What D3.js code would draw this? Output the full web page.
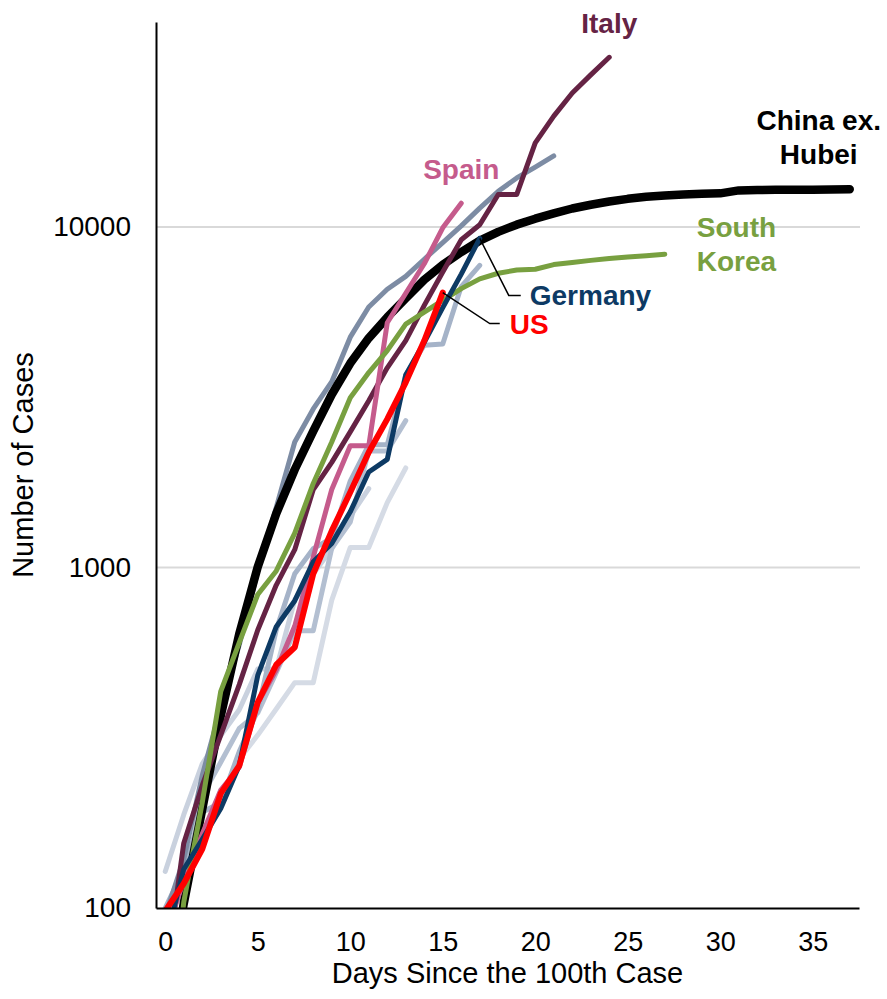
<!DOCTYPE html>
<html>
<head>
<meta charset="utf-8">
<script src="https://cdn.jsdelivr.net/npm/d3@7"></script>
<style>
  body { margin: 0; background: #fff; }
  svg { display: block; }
  text { font-family: "Liberation Sans", Arial, Helvetica, sans-serif; }
</style>
</head>
<body>
<svg id="chart" width="887" height="999"></svg>
<script>
// Cumulative confirmed cases, indexed by days since the 100th case
const chinaExHubei = [50, 103, 195, 367, 638, 1004, 1440, 1940, 2516, 3221, 3977, 4718, 5430, 6171, 7002, 7744,
  8441, 9122, 9678, 10159, 10578, 10961, 11333, 11626, 11886, 12098, 12264, 12375, 12457, 12515, 12557,
  12810, 12838, 12854, 12865, 12874, 12878, 12902];
const italy = [62, 155, 229, 322, 453, 655, 888, 1128, 1694, 2036, 2502, 3089, 3858, 4636, 5883, 7375, 9172,
  10149, 12462, 12462, 17660, 21157, 24747, 27980, 31506];
const spain = [84, 120, 165, 222, 259, 400, 500, 673, 1073, 1695, 2277, 2277, 5232, 6391, 7798, 9942, 11748];
const southKorea = [31, 104, 204, 433, 602, 833, 977, 1261, 1766, 2337, 3150, 3736, 4335, 5186, 5621, 6088,
  6593, 7041, 7314, 7478, 7513, 7755, 7869, 7979, 8086, 8162, 8236, 8320];
const germany = [79, 130, 159, 196, 262, 482, 670, 799, 1040, 1176, 1457, 1908, 2078, 3675, 4585, 5795, 7272, 9257];
const us = [98, 118, 149, 217, 262, 402, 518, 583, 959, 1281, 1663, 2179, 2727, 3499, 4632, 6421];
const iran = [95, 139, 245, 388, 593, 978, 1501, 2336, 2922, 3513, 4747, 5823, 6566, 7161, 8042, 9000, 10075,
  11364, 12729, 13938, 14991, 16169];
const france = [100, 130, 191, 204, 288, 380, 656, 959, 1136, 1219, 1794, 2293, 2293, 3681, 4496, 4532, 6683, 7715];
const switzerland = [90, 114, 214, 268, 337, 374, 491, 652, 652, 1139, 1359, 2200, 2200, 2700];
const netherlands = [128, 188, 265, 321, 382, 503, 503, 804, 959, 1135, 1413, 1705];
const unitedKingdom = [86, 116, 164, 207, 274, 322, 384, 459, 459, 802, 1144, 1145, 1551, 1960];

// Axis ticks
const xTickValues = [0, 5, 10, 15, 20, 25, 30, 35];
const yTickValues = [100, 1000, 10000];
const gridValues = [1000, 10000];

// Series drawn in this order (background lines first)
const series = [
  { key: "unitedKingdom", values: unitedKingdom, color: "#d5dbe5", width: 5 },
  { key: "netherlands", values: netherlands, color: "#c9d1de", width: 5 },
  { key: "switzerland", values: switzerland, color: "#b3bfd1", width: 5 },
  { key: "france", values: france, color: "#a5b3c8", width: 5 },
  { key: "iran", values: iran, color: "#7d8ca4", width: 5 },
  { key: "china", values: chinaExHubei, color: "#000000", width: 8.5 },
  { key: "italy", values: italy, color: "#652344", width: 5 },
  { key: "spain", values: spain, color: "#c55b8c", width: 5 },
  { key: "korea", values: southKorea, color: "#78a040", width: 5 },
  { key: "germany", values: germany, color: "#0d3a64", width: 5 },
  { key: "us", values: us, color: "#ff0000", width: 6 }
];

const svg = d3.select("#chart");
const plot = { left: 156, right: 859, top: 22, bottom: 908 };

const x = d3.scaleLinear().domain([-0.5, 37.5]).range([plot.left, plot.right]);
const y = d3.scaleLog().domain([100, 40000]).range([plot.bottom, plot.top]);

// Gridlines
svg.append("g")
  .selectAll("line")
  .data(gridValues)
  .join("line")
  .attr("x1", plot.left).attr("x2", plot.right + 1)
  .attr("y1", d => y(d)).attr("y2", d => y(d))
  .attr("stroke", "#d9d9d9")
  .attr("stroke-width", 2);

// Clip lines to the plotting area (values below 100 leave through the bottom)
svg.append("defs").append("clipPath").attr("id", "plotClip")
  .append("rect")
  .attr("x", plot.left).attr("y", 0)
  .attr("width", 887 - plot.left).attr("height", plot.bottom);

const line = d3.line()
  .x((d, i) => x(i))
  .y(d => y(d));

svg.append("g")
  .attr("clip-path", "url(#plotClip)")
  .selectAll("path")
  .data(series)
  .join("path")
  .attr("d", d => line(d.values))
  .attr("fill", "none")
  .attr("stroke", d => d.color)
  .attr("stroke-width", d => d.width)
  .attr("stroke-linejoin", "round")
  .attr("stroke-linecap", "round");

// Axes
const yAxis = svg.append("g")
  .attr("transform", `translate(${plot.left},0)`)
  .call(d3.axisLeft(y).tickValues(yTickValues).tickFormat(d3.format("d"))
    .tickSize(0).tickSizeOuter(0).tickPadding(25));
yAxis.select(".domain").attr("stroke", "#000").attr("stroke-width", 2);
yAxis.selectAll("text").attr("font-size", 28).attr("fill", "#000")
  .attr("font-family", "'Liberation Sans', Arial, sans-serif");

const xAxis = svg.append("g")
  .attr("transform", `translate(0,${plot.bottom})`)
  .call(d3.axisBottom(x).tickValues(xTickValues).tickFormat(d3.format("d"))
    .tickSize(0).tickSizeOuter(0).tickPadding(24));
xAxis.select(".domain").attr("stroke", "#000").attr("stroke-width", 2);
xAxis.selectAll("text").attr("font-size", 27).attr("fill", "#000")
  .attr("font-family", "'Liberation Sans', Arial, sans-serif");

// Axis titles
svg.append("text")
  .attr("x", (plot.left + plot.right) / 2)
  .attr("y", 983)
  .attr("text-anchor", "middle")
  .attr("font-size", 29)
  .attr("fill", "#000")
  .text("Days Since the 100th Case");

svg.append("text")
  .attr("transform", `translate(33,${(plot.top + plot.bottom) / 2}) rotate(-90)`)
  .attr("text-anchor", "middle")
  .attr("font-size", 29)
  .attr("fill", "#000")
  .text("Number of Cases");

// Series labels
const lastPoint = arr => [x(arr.length - 1), y(arr[arr.length - 1])];
const labels = svg.append("g").attr("font-weight", "bold").attr("font-size", 28);

const [itX, itY] = lastPoint(italy);
labels.append("text").attr("x", itX).attr("y", itY - 24)
  .attr("text-anchor", "middle").attr("fill", "#652344").text("Italy");

const [spX, spY] = lastPoint(spain);
labels.append("text").attr("x", spX).attr("y", spY - 24)
  .attr("text-anchor", "middle").attr("fill", "#c55b8c").text("Spain");

const [chX, chY] = lastPoint(chinaExHubei);
const chinaLabel = labels.append("text").attr("text-anchor", "middle").attr("fill", "#000");
chinaLabel.append("tspan").attr("x", chX - 31).attr("y", chY - 59).text("China ex.");
chinaLabel.append("tspan").attr("x", chX - 31).attr("y", chY - 25).text("Hubei");

const [krX, krY] = lastPoint(southKorea);
const koreaLabel = labels.append("text").attr("text-anchor", "start").attr("fill", "#78a040");
koreaLabel.append("tspan").attr("x", krX + 32).attr("y", krY - 17).text("South");
koreaLabel.append("tspan").attr("x", krX + 32).attr("y", krY + 17).text("Korea");

// Leader lines for Germany and US
const [deX, deY] = lastPoint(germany);
svg.append("path")
  .attr("d", `M${deX},${deY} L${deX + 29},${deY + 57} H${deX + 41}`)
  .attr("fill", "none").attr("stroke", "#000").attr("stroke-width", 1.5);
labels.append("text").attr("x", deX + 50).attr("y", deY + 67)
  .attr("fill", "#0d3a64").text("Germany");

const [usX, usY] = lastPoint(us);
svg.append("path")
  .attr("d", `M${usX},${usY} L${usX + 47},${usY + 31} H${usX + 57}`)
  .attr("fill", "none").attr("stroke", "#000").attr("stroke-width", 1.5);
labels.append("text").attr("x", usX + 67).attr("y", usY + 41)
  .attr("fill", "#ff0000").text("US");
</script>
</body>
</html>
